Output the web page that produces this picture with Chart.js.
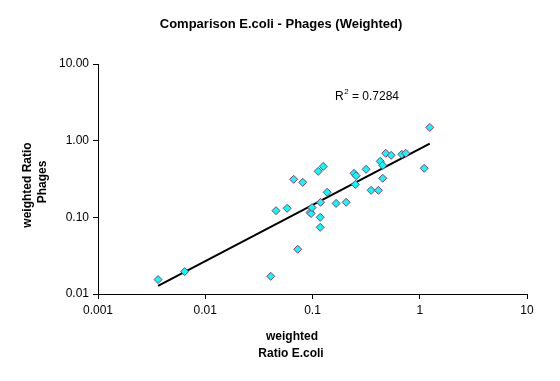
<!DOCTYPE html>
<html>
<head>
<meta charset="utf-8">
<script src="https://cdn.jsdelivr.net/npm/chart.js@4/dist/chart.umd.min.js"></script>
<style>
html,body{margin:0;padding:0;background:#fff;}
#wrap{width:560px;height:381px;position:relative;}
</style>
</head>
<body>
<div id="wrap"><canvas id="c" width="560" height="381"></canvas></div>
<script>
const chartTitle = "Comparison E.coli - Phages (Weighted)";
const xTitleLines = ["weighted", "Ratio E.coli"];
const yTitleLines = ["weighted Ratio", "Phages"];
const r2Parts = ["R", "2", " = 0.7284"];
const xTickValues = [0.001, 0.01, 0.1, 1, 10];
const yTickValues = [0.01, 0.1, 1, 10];

const ecoliRatio = [0.00363, 0.00643, 0.0408, 0.0457, 0.058, 0.0668, 0.0811, 0.0729, 0.095, 0.097, 0.099,
  0.113, 0.126, 0.118, 0.118, 0.119, 0.137, 0.166, 0.206, 0.244, 0.255, 0.251, 0.316, 0.352, 0.412,
  0.428, 0.452, 0.452, 0.482, 0.541, 0.680, 0.741, 1.10, 1.24];
const phagesRatio = [0.0154, 0.0196, 0.0170, 0.122, 0.131, 0.313, 0.286, 0.0383, 0.116, 0.112, 0.134,
  0.398, 0.462, 0.100, 0.0741, 0.157, 0.212, 0.152, 0.157, 0.375, 0.349, 0.269, 0.423, 0.225, 0.225,
  0.537, 0.476, 0.323, 0.684, 0.644, 0.664, 0.684, 0.436, 1.49];

// power trendline (least squares in log-log space), as the spreadsheet does
function powerFit(xs, ys) {
  const lx = xs.map(Math.log10), ly = ys.map(Math.log10);
  const n = lx.length;
  const mx = lx.reduce((a,b)=>a+b,0)/n, my = ly.reduce((a,b)=>a+b,0)/n;
  let sxy=0, sxx=0;
  for (let i=0;i<n;i++){ sxy += (lx[i]-mx)*(ly[i]-my); sxx += (lx[i]-mx)*(lx[i]-mx); }
  const b = sxy/sxx, a = my - b*mx;
  return x => Math.pow(10, a + b*Math.log10(x));
}
const fit = powerFit(ecoliRatio, phagesRatio);
const xMin = Math.min(...ecoliRatio), xMax = Math.max(...ecoliRatio);
const trendPoints = [{x:xMin, y:fit(xMin)}, {x:xMax, y:fit(xMax)}];

const points = ecoliRatio.map((x,i)=>({x:x, y:phagesRatio[i]}));
const FONT = "'Liberation Sans', Arial, sans-serif";

const textPlugin = {
  id: 'texts',
  afterDraw(chart) {
    const ctx = chart.ctx;
    ctx.save();
    ctx.fillStyle = '#000';
    ctx.textAlign = 'center';
    ctx.textBaseline = 'middle';
    ctx.font = "bold 13px " + FONT;
    ctx.fillText(chartTitle, 281, 24);
    ctx.font = "bold 12px " + FONT;
    ctx.fillText(xTitleLines[0], 292, 337);
    ctx.fillText(xTitleLines[1], 291, 354);
    ctx.save();
    ctx.translate(28, 185);
    ctx.rotate(-Math.PI/2);
    ctx.fillText(yTitleLines[0], 0, 0);
    ctx.restore();
    ctx.save();
    ctx.translate(43, 182);
    ctx.rotate(-Math.PI/2);
    ctx.fillText(yTitleLines[1], 0, 0);
    ctx.restore();
    // R² label with superscript
    ctx.textAlign = 'left';
    ctx.textBaseline = 'alphabetic';
    let x = 335;
    ctx.font = "12px " + FONT;
    ctx.fillText(r2Parts[0], x, 100);
    x += ctx.measureText(r2Parts[0]).width;
    ctx.font = "8px " + FONT;
    ctx.fillText(r2Parts[1], x + 0.5, 94);
    x += ctx.measureText(r2Parts[1]).width + 0.5;
    ctx.font = "12px " + FONT;
    ctx.fillText(r2Parts[2], x, 100);
    ctx.restore();
  }
};

new Chart(document.getElementById('c'), {
  type: 'scatter',
  data: {
    datasets: [
      {
        label: 'trend',
        type: 'line',
        data: trendPoints,
        borderColor: '#000',
        borderWidth: 2,
        pointRadius: 0,
        fill: false,
        order: 2
      },
      {
        label: 'data',
        data: points,
        pointStyle: 'rectRot',
        pointRadius: 4,
        pointBackgroundColor: '#00FFFF',
        pointBorderColor: '#993366',
        pointBorderWidth: 1,
        order: 1
      }
    ]
  },
  options: {
    responsive: false,
    animation: false,
    devicePixelRatio: 1,
    layout: { padding: { left: 0, right: 33, top: 64, bottom: 0 } },
    plugins: { legend: { display: false }, tooltip: { enabled: false }, title: { display: false } },
    scales: {
      x: {
        type: 'logarithmic',
        min: 0.001, max: 10,
        afterBuildTicks: s => { s.ticks = xTickValues.map(v=>({value:v})); },
        afterFit: s => { s.height = 87; },
        ticks: {
          color: '#000', font: { family: FONT, size: 12 }, padding: 4,
          maxRotation: 0, autoSkip: false,
          callback: v => String(v)
        },
        grid: { drawOnChartArea: false, drawTicks: true, tickLength: 5, color: '#000', lineWidth: 1 },
        border: { color: '#000', width: 1 }
      },
      y: {
        type: 'logarithmic',
        min: 0.01, max: 10,
        afterBuildTicks: s => { s.ticks = yTickValues.map(v=>({value:v})); },
        afterFit: s => { s.width = 98; },
        ticks: {
          color: '#000', font: { family: FONT, size: 12 }, padding: 4, autoSkip: false,
          callback: v => Number(v).toFixed(2)
        },
        grid: { drawOnChartArea: false, drawTicks: true, tickLength: 5, color: '#000', lineWidth: 1 },
        border: { color: '#000', width: 1 }
      }
    }
  },
  plugins: [textPlugin]
});
</script>
</body>
</html>
